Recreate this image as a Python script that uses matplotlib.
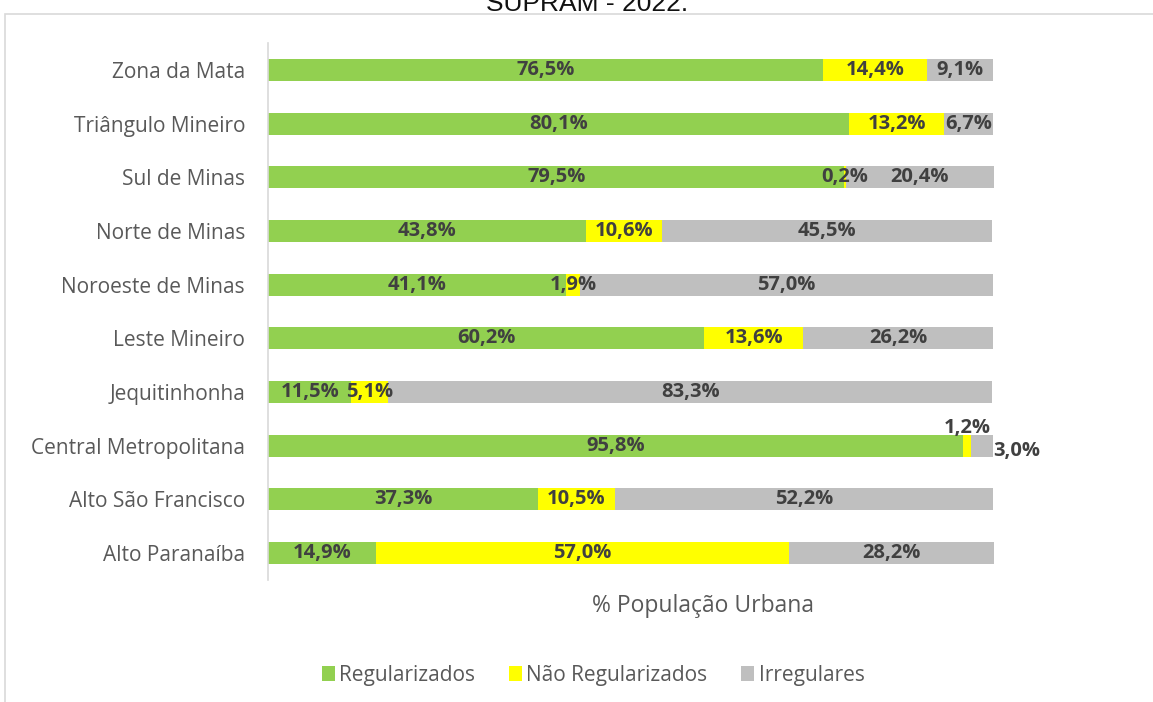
import numpy as np
import matplotlib.pyplot as plt
from matplotlib.patches import Rectangle

# Data (% of urban population)
regions = ['Zona da Mata', 'Triângulo Mineiro', 'Sul de Minas', 'Norte de Minas',
           'Noroeste de Minas', 'Leste Mineiro', 'Jequitinhonha',
           'Central Metropolitana', 'Alto São Francisco', 'Alto Paranaíba']
regularizados = [76.5, 80.1, 79.5, 43.8, 41.1, 60.2, 11.5, 95.8, 37.3, 14.9]
nao_regularizados = [14.4, 13.2, 0.2, 10.6, 1.9, 13.6, 5.1, 1.2, 10.5, 57.0]
irregulares = [9.1, 6.7, 20.4, 45.5, 57.0, 26.2, 83.3, 3.0, 52.2, 28.2]

series = [('Regularizados', regularizados, '#92D050'),
          ('Não Regularizados', nao_regularizados, '#FFFF00'),
          ('Irregulares', irregulares, '#BFBFBF')]

plt.rcParams['font.family'] = ['Open Sans', 'DejaVu Sans']
label_color = '#404040'
text_color = '#595959'

fig = plt.figure(figsize=(11.53, 7.02), dpi=100)
ax = fig.add_axes([268/1153, 1 - 580/702, (1138 - 268)/1153, (580 - 43)/702])

# outer chart frame (partially cut in the reference)
fig.patches.append(Rectangle((5/1153, -0.1), 1.2, 1.1 - 14/702, transform=fig.transFigure,
                             fill=False, edgecolor='#D9D9D9', linewidth=1.2))
fig.text(587/1153, 1 - 11/702, 'SUPRAM - 2022.', ha='center', va='baseline',
         fontsize=19, family='Liberation Sans', color='#111111')

y = np.arange(len(regions))[::-1]
left = np.zeros(len(regions))
for name, vals, color in series:
    vals = np.array(vals)
    ax.barh(y, vals, left=left, height=0.41, color=color, label=name)
    for i, (yy, l, v) in enumerate(zip(y, left, vals)):
        txt = f'{v:.1f}%'.replace('.', ',')
        x = l + v / 2
        yy_t = yy
        ha = 'center'
        if regions[i] == 'Central Metropolitana' and name == 'Não Regularizados':
            yy_t = yy + 0.33
        elif regions[i] == 'Central Metropolitana' and name == 'Irregulares':
            x = l + v
            ha = 'left'
            yy_t = yy - 0.1
        ax.text(x, yy_t, txt, ha=ha, va='center', fontsize=14.5, fontweight='bold',
                color=label_color)
    left = left + vals

ax.set_xlim(0, 120)
ax.set_ylim(-0.5, len(regions) - 0.5)
ax.set_yticks(y)
ax.set_yticklabels(regions, fontsize=15, color=text_color)
ax.tick_params(axis='y', length=0, pad=16.5)
ax.set_xticks([])
for s in ['top', 'right', 'bottom']:
    ax.spines[s].set_visible(False)
ax.spines['left'].set_color('#D9D9D9')
ax.spines['left'].set_linewidth(1.2)
ax.set_xlabel('% População Urbana', fontsize=16.5, color=text_color, labelpad=10)

fig.legend(loc='center', bbox_to_anchor=(593/1153, 1 - 675/702), ncol=3, frameon=False,
           fontsize=15, handlelength=0.65, handleheight=0.75, handletextpad=0.2,
           columnspacing=1.6, labelcolor=text_color)

fig.savefig('out.png', dpi=100)
